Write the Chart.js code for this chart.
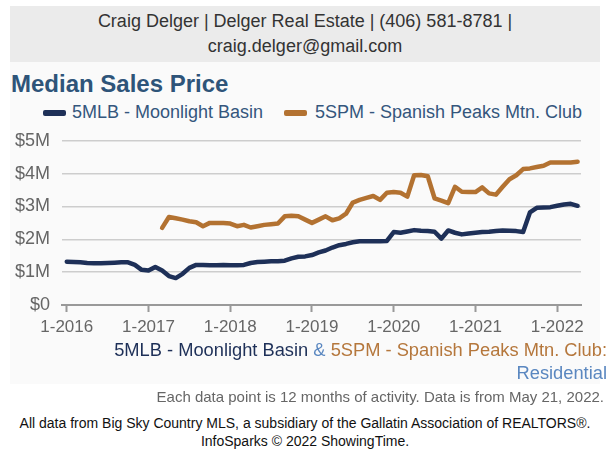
<!DOCTYPE html>
<html>
<head>
<meta charset="utf-8">
<script src="https://cdn.jsdelivr.net/npm/chart.js@4.4.1/dist/chart.umd.min.js"></script>
<style>
  body { margin: 0; background: #fff; font-family: 'Liberation Sans', Arial, sans-serif; }
  .page { position: relative; width: 610px; height: 451px; overflow: hidden; }
  .header { position: absolute; left: 10px; top: 6px; width: 590px; height: 53px; background: #ebebeb;
    color: #333; font-size: 18px; line-height: 25px; text-align: center; padding-top: 3px; }
  .panel { position: absolute; left: 10px; top: 62px; width: 590px; height: 322px; background: #fafafa; }
  .title { position: absolute; left: 11px; top: 70px; font-size: 24px; font-weight: bold; color: #2e5479; }
  .legend { position: absolute; top: 102px; font-size: 18px; color: #34567d; white-space: nowrap; }
  .swatch { position: absolute; top: 8px; width: 23px; height: 6px; border-radius: 2px; }
  .sub { position: absolute; right: 3px; font-size: 18.3px; white-space: nowrap; text-align: right; }
  .note { position: absolute; right: 6px; top: 388px; font-size: 15px; color: #666; white-space: nowrap; }
  .foot { position: absolute; left: 0; width: 610px; top: 414px; font-size: 14px; line-height: 18px;
    color: #111; text-align: center; }
  .chartbox { position: absolute; left: 0; top: 118px; width: 610px; height: 222px; }
</style>
</head>
<body>
<div class="page">
  <div class="header">Craig Delger | Delger Real Estate | (406) 581-8781 |<br>craig.delger@gmail.com</div>
  <div class="panel"></div>
  <div class="title">Median Sales Price</div>
  <div class="legend" style="left:43px"><span class="swatch" style="left:0;background:#1e3058"></span><span style="margin-left:29px">5MLB - Moonlight Basin</span></div>
  <div class="legend" style="left:284px"><span class="swatch" style="left:0;background:#b37231"></span><span style="margin-left:31px">5SPM - Spanish Peaks Mtn. Club</span></div>
  <div class="chartbox"><canvas id="chart"></canvas></div>
  <div class="sub" style="top:339px"><span style="color:#1e3058">5MLB - Moonlight Basin</span> <span style="color:#5a87c0">&amp;</span> <span style="color:#b5773c">5SPM - Spanish Peaks Mtn. Club:</span></div>
  <div class="sub" style="top:362px;color:#5a87c0">Residential</div>
  <div class="note">Each data point is 12 months of activity. Data is from May 21, 2022.</div>
  <div class="foot">All data from Big Sky Country MLS, a subsidiary of the Gallatin Association of REALTORS®.<br>InfoSparks © 2022 ShowingTime.</div>
</div>
<script>
// monthly points, 1-2016 through 4-2022 (values in $M)
const yearTicks = [0, 12, 24, 36, 48, 60, 72];
const yearLabels = ['1-2016', '1-2017', '1-2018', '1-2019', '1-2020', '1-2021', '1-2022'];

const moonlight = [
  1.32, 1.31, 1.30, 1.28, 1.27, 1.27, 1.28, 1.29, 1.30, 1.30, 1.22, 1.07,
  1.05, 1.16, 1.05, 0.88, 0.82, 0.95, 1.13, 1.22, 1.22, 1.21, 1.21, 1.22,
  1.21, 1.21, 1.22, 1.28, 1.31, 1.32, 1.33, 1.33, 1.35, 1.42, 1.47, 1.48,
  1.52, 1.60, 1.66, 1.75, 1.82, 1.86, 1.91, 1.94, 1.94, 1.94, 1.94, 1.95,
  2.22, 2.20, 2.24, 2.28, 2.26, 2.25, 2.23, 2.02, 2.27, 2.20, 2.15, 2.18,
  2.20, 2.22, 2.23, 2.25, 2.27, 2.26, 2.25, 2.22, 2.82, 2.96, 2.97, 2.98,
  3.02, 3.06, 3.08, 3.02
];

const spanishPeaks = [
  null, null, null, null, null, null, null, null, null, null, null, null,
  null, null, 2.35, 2.68, 2.64, 2.60, 2.55, 2.52, 2.40, 2.50, 2.50, 2.50,
  2.48, 2.40, 2.44, 2.36, 2.40, 2.44, 2.46, 2.48, 2.70, 2.72, 2.70, 2.60,
  2.50, 2.60, 2.70, 2.58, 2.64, 2.78, 3.12, 3.20, 3.26, 3.32, 3.20, 3.42,
  3.44, 3.42, 3.30, 3.95, 3.96, 3.92, 3.25, 3.18, 3.10, 3.60, 3.45, 3.44,
  3.44, 3.58, 3.40, 3.36, 3.60, 3.83, 3.95, 4.14, 4.16, 4.20, 4.24, 4.34,
  4.34, 4.34, 4.34, 4.36
];

function toPoints(arr) {
  return arr.map((v, i) => ({ x: i, y: v === null ? null : v * 1000000 }));
}

const ctx = document.getElementById('chart').getContext('2d');

new Chart(ctx, {
  type: 'line',
  data: {
    datasets: [
      {
        label: '5MLB - Moonlight Basin',
        data: toPoints(moonlight),
        borderColor: '#1e3058',
        borderWidth: 4.5,
        pointRadius: 0,
        tension: 0,
        borderJoinStyle: 'round',
        borderCapStyle: 'round',
      },
      {
        label: '5SPM - Spanish Peaks Mtn. Club',
        data: toPoints(spanishPeaks),
        borderColor: '#b37231',
        borderWidth: 4.5,
        pointRadius: 0,
        tension: 0,
        spanGaps: false,
        borderJoinStyle: 'round',
        borderCapStyle: 'round',
      },
    ],
  },
  options: {
    responsive: true,
    maintainAspectRatio: false,
    animation: false,
    layout: { padding: { top: 15, right: 29, bottom: 0, left: 0 } },
    plugins: {
      legend: { display: false },
      tooltip: { enabled: false },
    },
    scales: {
      x: {
        type: 'linear',
        min: -0.7,
        max: 75.5,
        afterBuildTicks: (scale) => {
          scale.ticks = yearTicks.map((v) => ({ value: v }));
        },
        afterFit: (scale) => { scale.height = 35; },
        ticks: {
          autoSkip: false,
          maxRotation: 0,
          padding: 5,
          color: '#666',
          font: { family: 'Liberation Sans', size: 17 },
          callback: (value, i) => yearLabels[i],
        },
        grid: {
          drawOnChartArea: false,
          drawTicks: true,
          tickLength: 7,
          tickColor: '#999',
          tickWidth: 2,
        },
        border: { color: '#999', width: 2 },
      },
      y: {
        min: 0,
        max: 5000000,
        afterFit: (scale) => { scale.width = 62; },
        ticks: {
          stepSize: 1000000,
          padding: 12,
          color: '#666',
          font: { family: 'Liberation Sans', size: 18 },
          callback: (value) => (value === 0 ? '$0' : `$${value / 1000000}M`),
        },
        grid: {
          color: '#cdcdcd',
          lineWidth: 1.5,
          drawTicks: false,
        },
        border: { display: false },
      },
    },
  },
});
</script>
</body>
</html>
